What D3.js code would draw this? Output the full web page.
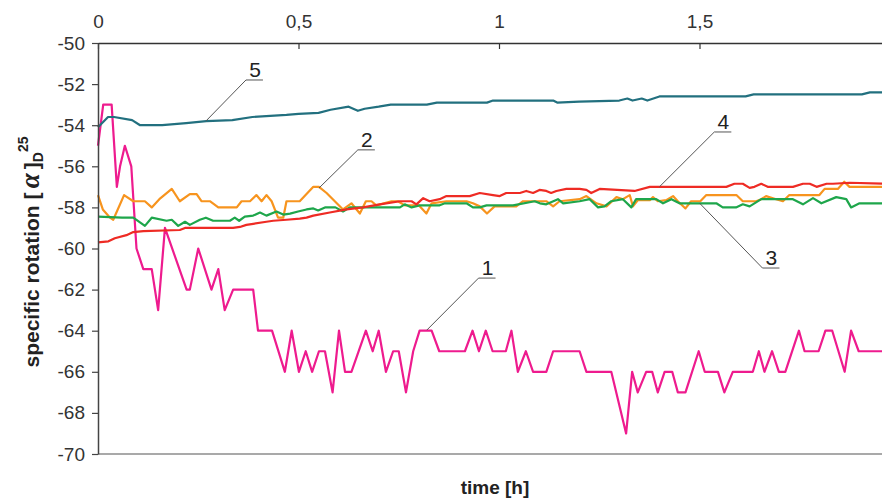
<!DOCTYPE html>
<html><head><meta charset="utf-8">
<script src="https://cdn.jsdelivr.net/npm/d3@7/dist/d3.min.js"></script>
<style>body{margin:0;background:#fff}svg{display:block}</style>
</head><body>
<svg id="c" width="882" height="498"></svg>
<script>
// time [h] ticks
const xTicks = [0, 0.5, 1, 1.5];
const yTicks = [-70, -68, -66, -64, -62, -60, -58, -56, -54, -52, -50];

// series: [time h, specific rotation]
const s1 = [[0,-55],[0.013,-53],[0.034,-53],[0.047,-57],[0.055,-56],[0.067,-55],[0.083,-56],[0.096,-60],[0.113,-61],[0.134,-61],[0.150,-63],[0.167,-59],[0.221,-62],[0.229,-62],[0.250,-60],[0.283,-62],[0.300,-61],[0.316,-63],[0.337,-62],[0.387,-62],[0.399,-64],[0.434,-64],[0.466,-66],[0.483,-64],[0.501,-66],[0.518,-65],[0.534,-66],[0.551,-65],[0.566,-65],[0.585,-67],[0.601,-64],[0.616,-66],[0.632,-66],[0.668,-64],[0.685,-65],[0.700,-64],[0.718,-66],[0.736,-65],[0.750,-65],[0.768,-67],[0.786,-65],[0.802,-64],[0.832,-64],[0.851,-65],[0.915,-65],[0.934,-64],[0.950,-65],[0.967,-64],[0.984,-65],[1.017,-65],[1.031,-64],[1.047,-66],[1.067,-65],[1.085,-66],[1.118,-66],[1.135,-65],[1.201,-65],[1.218,-66],[1.280,-66],[1.317,-69],[1.332,-66],[1.346,-67],[1.367,-66],[1.382,-66],[1.396,-67],[1.413,-66],[1.432,-66],[1.446,-67],[1.465,-67],[1.498,-65],[1.513,-66],[1.546,-66],[1.562,-67],[1.583,-66],[1.633,-66],[1.648,-65],[1.662,-66],[1.681,-65],[1.698,-66],[1.714,-66],[1.748,-64],[1.762,-65],[1.797,-65],[1.814,-64],[1.831,-64],[1.862,-66],[1.878,-64],[1.897,-65],[1.96,-65]];
const s2 = [[0,-57.4],[0.012,-58.1],[0.030,-58.5],[0.038,-58.6],[0.065,-57.4],[0.088,-57.7],[0.117,-57.7],[0.134,-58.0],[0.153,-57.6],[0.184,-57.1],[0.204,-57.7],[0.229,-57.35],[0.246,-57.35],[0.258,-57.7],[0.279,-57.7],[0.300,-58.0],[0.346,-58.0],[0.358,-57.7],[0.379,-57.7],[0.395,-57.4],[0.408,-57.7],[0.420,-57.4],[0.433,-57.7],[0.449,-58.5],[0.462,-58.5],[0.470,-57.7],[0.503,-57.7],[0.537,-57.0],[0.551,-57.0],[0.570,-57.3],[0.611,-58.1],[0.632,-57.8],[0.653,-58.3],[0.668,-57.7],[0.682,-57.7],[0.694,-57.9],[0.732,-57.7],[0.748,-57.7],[0.765,-57.9],[0.800,-57.9],[0.819,-58.3],[0.832,-57.8],[0.869,-57.7],[0.919,-57.7],[0.935,-57.8],[0.952,-57.95],[0.970,-58.3],[0.989,-57.95],[1.043,-57.95],[1.060,-57.7],[1.118,-57.7],[1.135,-57.95],[1.151,-57.7],[1.201,-57.6],[1.218,-57.45],[1.243,-57.8],[1.268,-57.95],[1.293,-57.5],[1.309,-57.6],[1.326,-57.4],[1.334,-57.95],[1.346,-57.65],[1.376,-57.65],[1.384,-57.5],[1.396,-57.7],[1.417,-57.65],[1.434,-57.45],[1.446,-57.7],[1.465,-58.05],[1.479,-57.7],[1.502,-57.7],[1.517,-57.4],[1.592,-57.4],[1.608,-57.7],[1.641,-57.7],[1.654,-57.6],[1.666,-57.45],[1.691,-57.6],[1.708,-57.7],[1.724,-57.4],[1.799,-57.4],[1.812,-57.1],[1.845,-57.1],[1.861,-56.75],[1.874,-57.0],[1.96,-57.0]];
const s3 = [[0,-58.45],[0.06,-58.5],[0.088,-58.5],[0.117,-58.9],[0.134,-58.5],[0.171,-58.65],[0.184,-58.6],[0.200,-58.9],[0.217,-58.7],[0.229,-58.85],[0.254,-58.6],[0.269,-58.5],[0.287,-58.65],[0.329,-58.65],[0.341,-58.5],[0.352,-58.65],[0.366,-58.45],[0.387,-58.4],[0.404,-58.25],[0.420,-58.4],[0.445,-58.2],[0.462,-58.35],[0.479,-58.3],[0.499,-58.2],[0.520,-58.1],[0.537,-58.05],[0.549,-58.15],[0.566,-58.0],[0.592,-58.0],[0.611,-58.2],[0.628,-58.0],[0.703,-58.0],[0.753,-58.0],[0.765,-57.85],[0.782,-58.0],[0.802,-57.9],[0.852,-57.9],[0.865,-57.8],[0.919,-57.8],[0.935,-58.0],[0.952,-58.0],[0.969,-57.9],[1.035,-57.9],[1.089,-57.7],[1.102,-57.8],[1.118,-57.85],[1.147,-57.6],[1.160,-57.8],[1.201,-57.7],[1.226,-57.6],[1.247,-58.0],[1.263,-57.95],[1.280,-57.7],[1.309,-57.6],[1.330,-58.0],[1.342,-57.6],[1.392,-57.6],[1.409,-57.8],[1.430,-57.6],[1.450,-57.8],[1.542,-57.8],[1.558,-58.0],[1.591,-58.0],[1.608,-57.85],[1.625,-57.95],[1.654,-57.6],[1.733,-57.6],[1.758,-57.85],[1.783,-57.55],[1.804,-57.8],[1.841,-57.5],[1.866,-57.6],[1.878,-58.0],[1.899,-57.8],[1.96,-57.8]];
const s4 = [[0,-59.7],[0.026,-59.65],[0.042,-59.5],[0.071,-59.35],[0.088,-59.2],[0.113,-59.15],[0.204,-59.1],[0.217,-59.0],[0.337,-59.0],[0.354,-58.95],[0.370,-58.85],[0.387,-58.8],[0.420,-58.7],[0.437,-58.65],[0.470,-58.6],[0.503,-58.55],[0.520,-58.5],[0.537,-58.4],[0.578,-58.25],[0.620,-58.1],[0.661,-58.0],[0.703,-57.85],[0.753,-57.7],[0.782,-57.7],[0.794,-57.85],[0.811,-57.55],[0.827,-57.7],[0.852,-57.6],[0.869,-57.45],[0.927,-57.45],[0.952,-57.3],[0.985,-57.4],[1.002,-57.45],[1.018,-57.3],[1.052,-57.3],[1.068,-57.2],[1.085,-57.3],[1.101,-57.15],[1.118,-57.2],[1.130,-57.3],[1.143,-57.2],[1.168,-57.1],[1.201,-57.1],[1.218,-57.15],[1.230,-57.3],[1.251,-57.1],[1.338,-57.2],[1.376,-57.0],[1.567,-57.0],[1.587,-56.85],[1.608,-56.85],[1.625,-57.05],[1.637,-57.0],[1.654,-56.85],[1.670,-57.0],[1.733,-57.0],[1.758,-56.85],[1.775,-56.85],[1.792,-57.0],[1.817,-56.85],[1.833,-56.85],[1.874,-56.8],[1.96,-56.85]];
const s5 = [[0,-54.1],[0.025,-53.6],[0.04,-53.6],[0.085,-53.75],[0.105,-54.0],[0.16,-54.0],[0.22,-53.9],[0.27,-53.8],[0.335,-53.75],[0.385,-53.6],[0.47,-53.5],[0.5,-53.45],[0.55,-53.4],[0.58,-53.25],[0.625,-53.1],[0.648,-53.3],[0.665,-53.2],[0.7,-53.1],[0.73,-53.0],[0.82,-53.0],[0.845,-52.9],[0.97,-52.9],[0.985,-52.8],[1.135,-52.8],[1.145,-52.9],[1.2,-52.85],[1.3,-52.8],[1.32,-52.7],[1.333,-52.8],[1.356,-52.7],[1.37,-52.8],[1.4,-52.6],[1.475,-52.6],[1.55,-52.6],[1.615,-52.6],[1.635,-52.5],[1.905,-52.5],[1.925,-52.4],[1.96,-52.4]];

const seriesNames = ["1", "2", "3", "4", "5"];
const seriesData = [s1, s2, s3, s4, s5];
const seriesColors = ["#ee1b8e", "#f7941e", "#1ea64b", "#ee2b24", "#22707f"];
// annotation: [label, target t, target v, label t, label v]
const annotations = [
  ["5", 0.269, -53.8, 0.369, -51.8],
  ["2", 0.551, -57.06, 0.648, -55.2],
  ["4", 1.400, -57.0, 1.537, -54.33],
  ["1", 0.820, -63.97, 0.949, -61.44],
  ["3", 1.500, -57.79, 1.657, -60.95]
];

const svg = d3.select("#c");
const x = d3.scaleLinear().domain([0, 2]).range([98, 900]);
const y = d3.scaleLinear().domain([-70, -50]).range([454, 43]);
const font = "Arial, 'Liberation Sans', sans-serif";

// bottom axis line
svg.append("line").attr("x1", x(0)).attr("x2", x(2)).attr("y1", y(-70)).attr("y2", y(-70))
  .attr("stroke", "#8c8c8c").attr("stroke-width", 1.5);

// lines
const line = d3.line().x(d => x(d[0])).y(d => y(d[1]));
seriesData.forEach((s, i) => {
  svg.append("path").datum(s).attr("d", line).attr("fill", "none")
    .attr("stroke", seriesColors[i]).attr("stroke-width", 2.2)
    .attr("stroke-linejoin", "round");
});

// top axis
const gTop = svg.append("g").attr("transform", `translate(0,${y(-50)})`)
  .call(d3.axisTop(x).tickValues(xTicks).tickSize(-6).tickSizeOuter(0).tickPadding(15)
    .tickFormat(d => String(d).replace(".", ",")));
gTop.select(".domain").attr("stroke", "#333").attr("stroke-width", 1.5);
gTop.selectAll(".tick line").attr("stroke", "#333").attr("stroke-width", 1.2);
gTop.selectAll("text").attr("font-family", font).attr("font-size", 19).attr("fill", "#333");

// left axis
const gLeft = svg.append("g").attr("transform", `translate(${x(0)},0)`)
  .call(d3.axisLeft(y).tickValues(yTicks).tickSize(6).tickSizeOuter(0).tickPadding(7)
    .tickFormat(d => String(d)));
gLeft.select(".domain").attr("stroke", "#444").attr("stroke-width", 1.5);
gLeft.selectAll(".tick line").attr("stroke", "#444").attr("stroke-width", 1.2);
gLeft.selectAll("text").attr("font-family", font).attr("font-size", 19).attr("fill", "#333");

// annotations
const ga = svg.append("g");
annotations.forEach(a => {
  const tx = x(a[1]), ty = y(a[2]), lx = x(a[3]), ly = y(a[4]);
  ga.append("line").attr("x1", tx).attr("y1", ty).attr("x2", lx).attr("y2", ly)
    .attr("stroke", "#555").attr("stroke-width", 1);
  ga.append("line").attr("x1", lx).attr("y1", ly).attr("x2", lx + 17).attr("y2", ly)
    .attr("stroke", "#555").attr("stroke-width", 1);
  ga.append("text").attr("x", lx + 9).attr("y", ly - 3).attr("text-anchor", "middle")
    .attr("font-family", font).attr("font-size", 21).attr("fill", "#222").text(a[0]);
});

// axis titles
svg.append("text").attr("x", 495).attr("y", 494).attr("text-anchor", "middle")
  .attr("font-family", font).attr("font-weight", "bold").attr("font-size", 19).attr("fill", "#222")
  .text("time [h]");

const yt = svg.append("text").attr("transform", "translate(39,252) rotate(-90)")
  .attr("text-anchor", "middle").attr("font-family", font).attr("font-weight", "bold")
  .attr("font-size", 21).attr("fill", "#222");
yt.append("tspan").text("specific rotation [\u2009");
yt.append("tspan").attr("font-family", "'Liberation Serif', serif").attr("font-style", "italic").attr("font-size", 27).text("α");
yt.append("tspan").text("\u2009]");
yt.append("tspan").attr("font-size", 14).attr("dy", 4).text("D");
yt.append("tspan").attr("font-size", 14).attr("dy", -15).text("25");
</script>
</body></html>
